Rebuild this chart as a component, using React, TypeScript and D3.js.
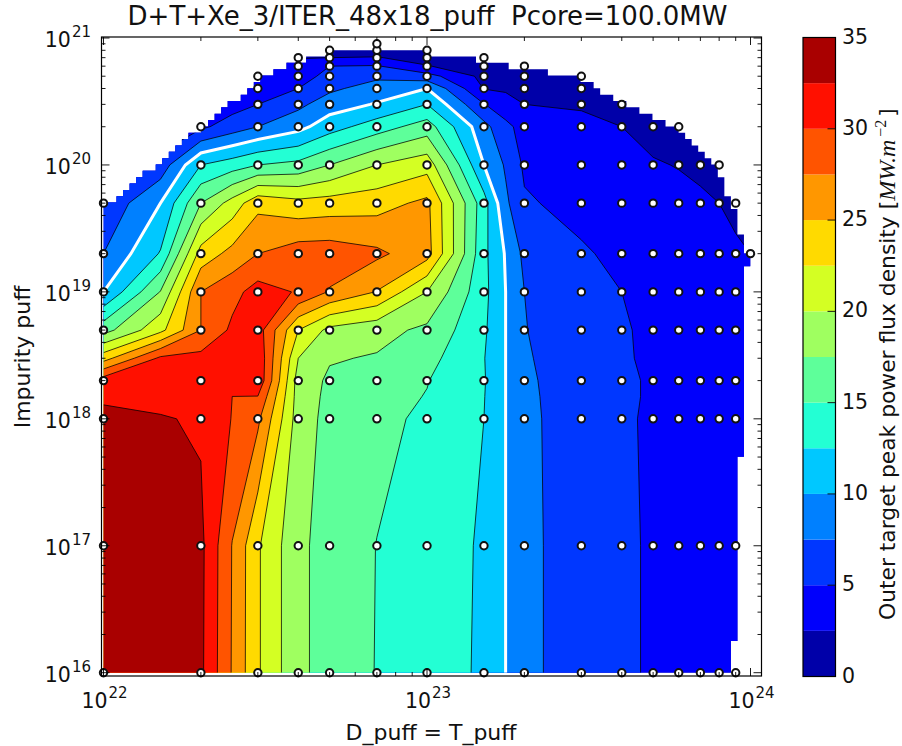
// App.tsx
import React from 'react';
import * as d3 from 'd3';

// contour grid nodes (D puff, impurity puff)
const gridD = [1e22, 1.5e22, 2e22, 2.5e22, 3e22, 4e22, 5e22, 7e22, 1e23, 1.5e23, 1.75e23, 2e23, 3e23, 4e23, 5e23, 6e23, 7e23, 8e23, 9e23, 1e24];
const gridImp = [1e16, 1e17, 1e18, 1.5e18, 2e18, 3e18, 5e18, 1e19, 2e19, 5e19, 1e20, 2e20, 3e20, 4e20, 5e20, 6e20, 7e20, 8e20, 9e20];

// peak power flux density, one list per impurity puff
const flux1e16 = [36, 36, 33, 27.3, 22.8, 18, 16.6, 14.9, 13.7, 12.15, 10, 8.3, 5.9, 5.3, 4.8, 4.3, 3.9, 3.6, 3.3, 3];
const flux1e17 = [36, 36, 33.1, 27.4, 22.8, 18, 16.6, 14.95, 13.8, 12.2, 10, 8.3, 5.9, 5.3, 4.8, 4.4, 4, 3.7, 3.4, 3.1];
const flux1e18 = [33.5, 32.7, 32.2, 29.9, 28, 18.8, 16.7, 15.7, 14.5, 12.5, 10, 8.2, 5.9, 5.3, 4.7, 4.3, 4, 3.7, 3.4, 3.1];
const flux15e17 = [31.9, 31.7, 32.3, 30, 29.95, 18.9, 16.9, 15.9, 14.9, 12.6, 10, 8.1, 5.9, 5.3, 4.8, 4.4, 4, 3.7, 3.5, 3.2];
const flux2e18 = [31.3, 31.5, 32.3, 32, 32, 18.9, 17.1, 16, 15.1, 12.7, 10, 8, 5.9, 5.3, 4.8, 4.4, 4.1, 3.8, 3.6, 3.4];
const flux3e18 = [24, 30.5, 30.8, 31.5, 32, 20, 17.7, 17.3, 15.8, 12.6, 10, 7.8, 5.9, 5.2, 4.7, 4.3, 4, 3.8, 3.6, 3.4];
const flux5e18 = [16.5, 21.8, 27.5, 30.5, 31.2, 22.5, 19.3, 18.3, 17, 12.9, 10, 7.6, 5.9, 5.2, 4.6, 4.2, 3.9, 3.7, 3.5, 3.3];
const flux1e19 = [10, 17.6, 27.5, 29.2, 31, 29.8, 27.3, 24.9, 20, 13.2, 10, 7.5, 5.8, 5, 4.5, 4.1, 3.9, 3.7, 3.5, 3.3];
const flux2e19 = [7.5, 12.7, 23.5, 25.8, 27.5, 28.8, 28.9, 28, 26, 13.1, 9.8, 6.9, 5.3, 4.4, 4, 3.7, 3.4, 3.2, 2.9, 2.5];
const flux5e19 = [5.5, 10, 17.5, 21, 24.3, 23.3, 23.6, 24, 25.6, 13.5, 8, 5.3, 4.2, 3.9, 3.5, 3.2, 2.9, 2.5, 1.9, 1.4];
const flux1e20 = [2.8, 6, 12.5, 13.8, 15, 15.7, 17.5, 20, 21.5, 10, 7.2, 4.6, 3.6, 3.2, 2.7, 2.4, 2, 1.5, 1, 0.6];
const flux2e20 = [1.5, 3, 4.5, 6.2, 7.5, 9.2, 11.4, 13.8, 16.2, 8.3, 5.7, 4, 3, 2.5, 1.7, 1.3, 1, 0.7, 0.4, 0.2];
const flux3e20 = [0.8, 1.5, 3, 4, 5, 6.9, 8.8, 10.2, 12.5, 5.1, 3.4, 2.5, 2.3, 1.5, 1, 0.8, 0.5, 0.3, 0.2, 0.1];
const flux4e20 = [0.5, 1, 2, 3, 4, 5, 7, 8.6, 10, 2.4, 2.2, 1.9, 1.6, 0.9, 0.6, 0.4, 0.3, 0.2, 0.1, 0.1];
const flux5e20 = [0.3, 0.6, 1.2, 2, 3, 4, 5.7, 7, 6, 1.8, 1.6, 1.3, 0.9, 0.6, 0.4, 0.3, 0.2, 0.1, 0.1, 0.1];
const flux6e20 = [0.2, 0.4, 0.8, 1.3, 2, 3.2, 5, 5.2, 2.6, 1.4, 1.2, 1, 0.7, 0.5, 0.3, 0.2, 0.1, 0.1, 0.1, 0.1];
const flux7e20 = [0.1, 0.3, 0.5, 0.8, 1.2, 2.4, 2.5, 2.6, 1.8, 1, 0.8, 0.7, 0.5, 0.3, 0.2, 0.1, 0.1, 0.1, 0.1, 0.1];
const flux8e20 = [0.1, 0.2, 0.3, 0.5, 0.7, 1.2, 1.5, 1.7, 1.2, 0.8, 0.6, 0.5, 0.3, 0.2, 0.1, 0.1, 0.1, 0.1, 0.1, 0.1];
const flux9e20 = [0.1, 0.1, 0.2, 0.3, 0.4, 0.7, 0.9, 1, 0.8, 0.5, 0.4, 0.3, 0.2, 0.1, 0.1, 0.1, 0.1, 0.1, 0.1, 0.1];
const fluxRows = [flux1e16, flux1e17, flux1e18, flux15e17, flux2e18, flux3e18, flux5e18, flux1e19, flux2e19, flux5e19, flux1e20, flux2e20, flux3e20, flux4e20, flux5e20, flux6e20, flux7e20, flux8e20, flux9e20];

// simulated cases (the white dots)
const caseD = [1e22, 2e22, 3e22, 4e22, 5e22, 7e22, 1e23, 1.5e23, 2e23, 3e23, 4e23, 5e23, 6e23, 7e23, 8e23, 9e23, 1e24];
const caseTop = [5e19, 2e20, 5e20, 7e20, 8e20, 9e20, 8e20, 7e20, 6e20, 5e20, 3e20, 2e20, 2e20, 1e20, 1e20, 5e19, 2e19];
const caseBottom = [1e16, 1e16, 1e16, 1e16, 1e16, 1e16, 1e16, 1e16, 1e16, 1e16, 1e16, 1e16, 1e16, 1e16, 1e16, 1e16, 2e19];
const caseImp = [1e16, 1e17, 1e18, 2e18, 5e18, 1e19, 2e19, 5e19, 1e20, 2e20, 3e20, 4e20, 5e20, 6e20, 7e20, 8e20, 9e20];

const levels = [0, 2.5, 5, 7.5, 10, 12.5, 15, 17.5, 20, 22.5, 25, 27.5, 30, 32.5];
const levelColors = ['#0000a9', '#0000fc', '#0037ff', '#0080ff', '#00c8ff', '#23ffd4', '#5eff9a', '#9fff60', '#d4ff23', '#ffda00', '#ff9700', '#ff5400', '#ff1000', '#a90000'];
const barTicks = [0, 5, 10, 15, 20, 25, 30, 35];
const xDecades = [22, 23, 24];
const yDecades = [16, 17, 18, 19, 20, 21];

const FONT = '"DejaVu Sans", sans-serif';
const MATH = '"Liberation Serif", serif';
const frame = { left: 101.5, right: 761.5, top: 37, bottom: 676 };
const bar = { left: 803, right: 835.5, top: 37.5, bottom: 676.5 };

const x = d3.scaleLog().domain([1e22, 1e24]).range([103.5, 750.5]);
const y = d3.scaleLog().domain([1e16, 1e21]).range([672.7, 38]);
const barY = d3.scaleLinear().domain([0, 35]).range([bar.bottom, bar.top]);

// grid index -> pixel, grid nodes are not evenly spaced
const ix = d3.scaleLinear().domain(d3.range(gridD.length)).range(gridD.map(d => x(d))).clamp(true);
const iy = d3.scaleLinear().domain(d3.range(gridImp.length)).range(gridImp.map(d => y(d))).clamp(true);

const contours = d3.contours().size([gridD.length, gridImp.length]).smooth(true);
const values = fluxRows.flat();

const toPixel = (p: number[]) => [ix(p[0] - 0.5), iy(p[1] - 0.5)];

function fillPath(level: number) {
  const shape = contours.contour(values, level);
  return shape.coordinates
    .map(poly => poly.map(ring => 'M' + ring.map(p => toPixel(p).join(',')).join('L') + 'Z').join(''))
    .join('');
}

// same rings, but without the stretches running along the edge of the grid
function linePath(level: number) {
  const nx = gridD.length - 1;
  const ny = gridImp.length - 1;
  const onEdge = (a: number[], b: number[]) => {
    const ax = a[0] - 0.5, ay = a[1] - 0.5, bx = b[0] - 0.5, by = b[1] - 0.5;
    return (ax <= 0 && bx <= 0) || (ax >= nx && bx >= nx) || (ay <= 0 && by <= 0) || (ay >= ny && by >= ny);
  };
  let path = '';
  contours.contour(values, level).coordinates.forEach(poly => {
    poly.forEach(ring => {
      let open = false;
      for (let i = 1; i < ring.length; i++) {
        if (onEdge(ring[i - 1], ring[i])) {
          open = false;
          continue;
        }
        if (!open) path += 'M' + toPixel(ring[i - 1]).join(',');
        path += 'L' + toPixel(ring[i]).join(',');
        open = true;
      }
    });
  });
  return path;
}

const cases: number[][] = [];
caseD.forEach((d, i) => {
  caseImp.forEach(imp => {
    if (imp <= caseTop[i] && imp >= caseBottom[i]) cases.push([d, imp]);
  });
});

// the filled area is the hull of the cases on a 100x100 log grid, a cell needs all its corners inside
function maskPath() {
  const hull = d3.polygonHull(cases.map(c => [x(c[0]), y(c[1])] as [number, number]))!;
  const c = d3.polygonCentroid(hull);
  const pad = hull.map(p => [c[0] + (p[0] - c[0]) * 1.002, c[1] + (p[1] - c[1]) * 1.002] as [number, number]);
  const N = 100;
  const gx = d3.range(N).map(i => x(Math.pow(10, 22 + (2 * i) / (N - 1))));
  const gy = d3.range(N).map(i => y(Math.pow(10, 16 + ((Math.log10(9e20) - 16) * i) / (N - 1))));
  const inside = (i: number, j: number) => d3.polygonContains(pad, [gx[i], gy[j]]);
  let path = '';
  for (let i = 0; i < N - 1; i++) {
    for (let j = 0; j < N - 1; j++) {
      if (inside(i, j) && inside(i + 1, j) && inside(i, j + 1) && inside(i + 1, j + 1)) {
        path += `M${gx[i]},${gy[j]}H${gx[i + 1]}V${gy[j + 1]}H${gx[i]}Z`;
      }
    }
  }
  return path;
}

const minorMultiples = [2, 3, 4, 5, 6, 7, 8, 9];

const Ticks = () => {
  const out: React.ReactNode[] = [];
  const tick = (key: string, x1: number, y1: number, x2: number, y2: number) =>
    out.push(<line key={key} x1={x1} y1={y1} x2={x2} y2={y2} stroke="#000" strokeWidth={0.9} />);
  xDecades.forEach(dec => {
    const px = x(Math.pow(10, dec));
    tick(`xb${dec}`, px, frame.bottom, px, frame.bottom - 8);
    tick(`xt${dec}`, px, frame.top, px, frame.top + 8);
    if (dec < 24) {
      minorMultiples.forEach(m => {
        const mx = x(m * Math.pow(10, dec));
        tick(`xb${dec}-${m}`, mx, frame.bottom, mx, frame.bottom - 4);
        tick(`xt${dec}-${m}`, mx, frame.top, mx, frame.top + 4);
      });
    }
  });
  yDecades.forEach(dec => {
    const py = y(Math.pow(10, dec));
    tick(`yl${dec}`, frame.left, py, frame.left + 8, py);
    tick(`yr${dec}`, frame.right, py, frame.right - 8, py);
    if (dec < 21) {
      minorMultiples.forEach(m => {
        const my = y(m * Math.pow(10, dec));
        tick(`yl${dec}-${m}`, frame.left, my, frame.left + 4, my);
        tick(`yr${dec}-${m}`, frame.right, my, frame.right - 4, my);
      });
    }
  });
  return <g>{out}</g>;
};

const Power = ({ px, py, dec, anchor }: { px: number; py: number; dec: number; anchor: 'middle' | 'end' }) => (
  <text x={px} y={py} textAnchor={anchor} fontFamily={FONT} fontSize={20.5} fill="#111">
    10
    <tspan dy={-10} dx={1} fontSize={15}>{dec}</tspan>
  </text>
);

export default function App() {
  const mask = maskPath();
  return (
    <svg width={902} height={746} style={{ position: 'absolute', left: 0, top: 0, background: '#fff' }}>
      <defs>
        <clipPath id="mask"><path d={mask} /></clipPath>
      </defs>

      <g clipPath="url(#mask)">
        {levels.map((lev, i) => (
          <path key={lev} d={fillPath(lev)} fill={levelColors[i]} />
        ))}
        {levels.slice(1).filter(lev => lev !== 10).map(lev => (
          <path key={lev} d={linePath(lev)} fill="none" stroke="#000" strokeOpacity={0.75} strokeWidth={1} />
        ))}
        <path d={linePath(10)} fill="none" stroke="#fff" strokeWidth={3} />
      </g>

      {cases.map(c => (
        <circle key={c.join('-')} cx={x(c[0])} cy={y(c[1])} r={3.7} fill="#fff" stroke="#111" strokeWidth={2} />
      ))}

      <Ticks />
      <rect x={frame.left} y={frame.top} width={frame.right - frame.left} height={frame.bottom - frame.top} fill="none" stroke="#000" strokeWidth={1.2} />

      {xDecades.map(dec => (
        <Power key={dec} px={x(Math.pow(10, dec)) + 1} py={708} dec={dec} anchor="middle" />
      ))}
      {yDecades.map(dec => (
        <Power key={dec} px={91} py={y(Math.pow(10, dec)) + 9} dec={dec} anchor="end" />
      ))}

      <text x={427.5} y={25} textAnchor="middle" fontFamily={FONT} fontSize={26} fill="#111" style={{ whiteSpace: 'pre' }}>
        {'D+T+Xe_3/ITER_48x18_puff  Pcore=100.0MW'}
      </text>
      <text x={431} y={740} textAnchor="middle" fontFamily={FONT} fontSize={22} fill="#111">D_puff = T_puff</text>
      <text transform="translate(30,357) rotate(-90)" textAnchor="middle" fontFamily={FONT} fontSize={22} fill="#111">Impurity puff</text>

      {levels.map((lev, i) => (
        <rect key={lev} x={bar.left} width={bar.right - bar.left} y={barY(lev + 2.5)} height={barY(lev) - barY(lev + 2.5)} fill={levelColors[i]} />
      ))}
      <rect x={bar.left} y={bar.top} width={bar.right - bar.left} height={bar.bottom - bar.top} fill="none" stroke="#000" strokeWidth={1.2} />
      {barTicks.map(t => (
        <g key={t}>
          <line x1={bar.right} x2={bar.right - 8} y1={barY(t)} y2={barY(t)} stroke="#000" strokeWidth={0.9} />
          <text x={842} y={barY(t) + 6} fontFamily={FONT} fontSize={20.5} fill="#111">{t}</text>
        </g>
      ))}
      <text transform="translate(895,620) rotate(-90)" fontFamily={FONT} fontSize={21.8} fill="#111">
        Outer target peak power flux density [
        <tspan fontFamily={MATH} fontStyle="italic" fontSize={24}>MW.m</tspan>
        <tspan dy={-9} dx={3} fontFamily={MATH} fontSize={16}>−2</tspan>
        <tspan dy={9} dx={3}>]</tspan>
      </text>
    </svg>
  );
}
